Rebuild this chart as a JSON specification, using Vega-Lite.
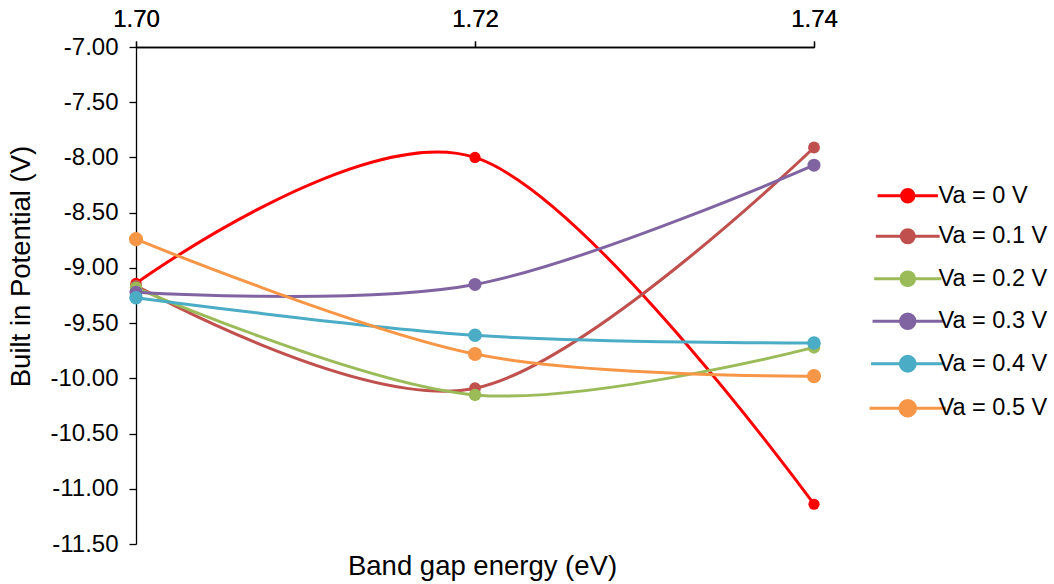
{
  "$schema": "https://vega.github.io/schema/vega-lite/v6.json",
  "width": 678,
  "height": 497,
  "autosize": {"type": "none"},
  "padding": {"left": 136, "top": 47, "right": 240, "bottom": 40},
  "background": "white",
  "config": {
    "locale": {"number": {"decimal": ".", "thousands": ",", "grouping": [3], "currency": ["$", ""], "minus": "-"}},
    "view": {"stroke": null},
    "font": "Liberation Sans",
    "axis": {
      "grid": false,
      "domainColor": "black",
      "tickColor": "black",
      "labelColor": "black",
      "titleColor": "black",
      "domainWidth": 1.3,
      "tickWidth": 1.3,
      "labelFont": "Liberation Sans",
      "titleFont": "Liberation Sans",
      "labelFontSize": 24,
      "titleFontSize": 27.5,
      "titleFontWeight": "normal",
      "labelFlush": false
    }
  },
  "data": {
    "values": [
      {"series": "Va = 0 V", "x": 1.70, "y": -9.14},
      {"series": "Va = 0 V", "x": 1.72, "y": -8.00},
      {"series": "Va = 0 V", "x": 1.74, "y": -11.14},
      {"series": "Va = 0.1 V", "x": 1.70, "y": -9.16},
      {"series": "Va = 0.1 V", "x": 1.72, "y": -10.09},
      {"series": "Va = 0.1 V", "x": 1.74, "y": -7.91},
      {"series": "Va = 0.2 V", "x": 1.70, "y": -9.18},
      {"series": "Va = 0.2 V", "x": 1.72, "y": -10.15},
      {"series": "Va = 0.2 V", "x": 1.74, "y": -9.72},
      {"series": "Va = 0.3 V", "x": 1.70, "y": -9.22},
      {"series": "Va = 0.3 V", "x": 1.72, "y": -9.15},
      {"series": "Va = 0.3 V", "x": 1.74, "y": -8.07},
      {"series": "Va = 0.4 V", "x": 1.70, "y": -9.27},
      {"series": "Va = 0.4 V", "x": 1.72, "y": -9.61},
      {"series": "Va = 0.4 V", "x": 1.74, "y": -9.68},
      {"series": "Va = 0.5 V", "x": 1.70, "y": -8.74},
      {"series": "Va = 0.5 V", "x": 1.72, "y": -9.78},
      {"series": "Va = 0.5 V", "x": 1.74, "y": -9.98}
    ]
  },
  "encoding": {
    "x": {
      "field": "x", "type": "quantitative",
      "scale": {"domain": [1.70, 1.74], "nice": false, "zero": false},
      "axis": {"orient": "top", "values": [1.70, 1.72, 1.74], "format": ".2f", "title": null, "tickSize": 6, "labelPadding": 10}
    },
    "y": {
      "field": "y", "type": "quantitative",
      "scale": {"domain": [-11.5, -7], "nice": false, "zero": false},
      "axis": {
        "values": [-7, -7.5, -8, -8.5, -9, -9.5, -10, -10.5, -11, -11.5],
        "format": ".2f", "title": "Built in Potential (V)", "tickSize": 7, "labelPadding": 11, "titlePadding": 14,
        "titleY": 219
      }
    },
    "color": {
      "field": "series", "type": "nominal",
      "scale": {
        "domain": ["Va = 0 V", "Va = 0.1 V", "Va = 0.2 V", "Va = 0.3 V", "Va = 0.4 V", "Va = 0.5 V"],
        "range": ["#FF0000", "#C0504D", "#9BBB59", "#8064A2", "#4BACC6", "#F79646"]
      },
      "legend": {
        "title": null,
        "orient": "none",
        "legendX": 760,
        "legendY": 137,
        "symbolType": "M-5.4,0H5.4M-1.1,0A1.1,1.1,0,1,0,1.1,0A1.1,1.1,0,1,0,-1.1,0Z",
        "symbolSize": 100,
        "symbolStrokeWidth": 3,
        "labelFont": "Liberation Sans",
        "labelFontSize": 23.5,
        "labelColor": "black",
        "labelOffset": 19,
        "rowPadding": 15.5,
        "padding": 0,
        "encode": {
          "symbols": {
            "update": {
              "fill": {"scale": "color", "field": "value"},
              "stroke": {"scale": "color", "field": "value"},
              "strokeWidth": {"value": 3},
              "opacity": {"value": 1},
              "size": {"value": 100}
            }
          }
        }
      }
    }
  },
  "layer": [
    {"mark": {"type": "line", "interpolate": "cardinal", "strokeWidth": 3}},
    {
      "mark": {"type": "point", "filled": true, "opacity": 1, "shape": "circle"},
      "encoding": {
        "size": {
          "field": "series", "type": "nominal",
          "scale": {
            "domain": ["Va = 0 V", "Va = 0.1 V", "Va = 0.2 V", "Va = 0.3 V", "Va = 0.4 V", "Va = 0.5 V"],
            "range": [125, 200, 200, 200, 200, 200]
          },
          "legend": null
        }
      }
    },
    {
      "mark": {"type": "point", "opacity": 0},
      "encoding": {
        "x": {
          "field": "x", "type": "quantitative",
          "axis": {"orient": "bottom", "title": "Band gap energy (eV)", "labels": false, "ticks": false, "domain": false, "titlePadding": 8, "titleX": 346}
        }
      }
    }
  ],
  "resolve": {"axis": {"x": "independent"}}
}
